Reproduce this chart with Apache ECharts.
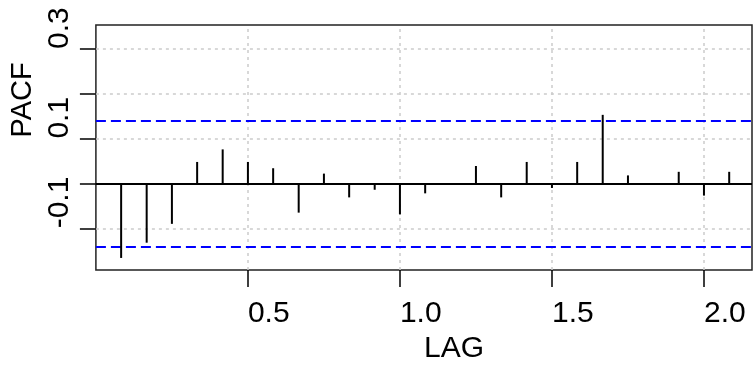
<!DOCTYPE html>
<html>
<head>
<meta charset="utf-8">
<script src="https://cdn.jsdelivr.net/npm/echarts@6/dist/echarts.min.js"></script>
<style>
  html, body { margin: 0; padding: 0; background: #fff; }
  #pacf-chart { width: 753px; height: 369px; }
</style>
</head>
<body>
<div id="pacf-chart"></div>
<script>
// lags in years (monthly series, frequency 12)
const lags = [0.083, 0.167, 0.25, 0.333, 0.417, 0.5, 0.583, 0.667, 0.75, 0.833,
  0.917, 1.0, 1.083, 1.167, 1.25, 1.333, 1.417, 1.5, 1.583, 1.667,
  1.75, 1.833, 1.917, 2.0, 2.083];
const pacf = [-0.166, -0.132, -0.090, 0.048, 0.076, 0.048, 0.034, -0.065, 0.022, -0.031,
  -0.014, -0.069, -0.022, -0.002, 0.039, -0.031, 0.048, -0.010, 0.048, 0.153,
  0.018, -0.002, 0.026, -0.027, 0.026];
const confBound = 0.143;

const xTicks = [0.5, 1.0, 1.5, 2.0];
const yTicks = [0.3, 0.2, 0.1, 0.0, -0.1];
const yTickLabels = [0.3, 0.1, -0.1];
const yGrid = [0.3, 0.2, 0.1, -0.1];

const font = "'Liberation Sans', Arial, sans-serif";

let chartDom = document.getElementById('pacf-chart');
let myChart = echarts.init(chartDom);

let gridStyle = { color: '#cccccc', width: 1.5, type: [3, 4] };

let option = {
  animation: false,
  grid: {
    left: 93,
    right: 1,
    top: 25,
    bottom: 97,
    show: true,
    borderColor: '#222',
    borderWidth: 1.5,
  },
  xAxis: {
    type: 'value',
    min: 0,
    max: 2.158,
    name: 'LAG',
    nameLocation: 'middle',
    nameGap: 60,
    nameTextStyle: { fontFamily: font, fontSize: 30, color: '#000', align: 'left' },
    axisLine: { show: false, onZero: false },
    axisTick: {
      show: true,
      length: 17,
      customValues: xTicks,
      lineStyle: { color: '#000', width: 1.5 },
    },
    axisLabel: {
      customValues: xTicks,
      align: 'left',
      margin: 29,
      fontFamily: font,
      fontSize: 30,
      color: '#000',
      formatter: (v) => v.toFixed(1),
    },
    splitLine: { show: false },
  },
  yAxis: {
    type: 'value',
    min: -0.1931,
    max: 0.3533,
    name: 'PACF',
    nameLocation: 'middle',
    nameGap: 56,
    nameTextStyle: { fontFamily: font, fontSize: 29, color: '#000', align: 'left', padding: [0, 0, 0, 10] },
    axisLine: { show: false },
    axisTick: {
      show: true,
      length: 16,
      customValues: yTicks,
      lineStyle: { color: '#000', width: 1.5 },
    },
    axisLabel: {
      customValues: yTickLabels,
      rotate: 90,
      align: 'left',
      margin: 21,
      fontFamily: font,
      fontSize: 30,
      color: '#000',
      formatter: (v) => v.toFixed(1),
    },
    splitLine: { show: false },
  },
  series: [
    {
      name: 'grid',
      type: 'line',
      data: [],
      silent: true,
      z: 1,
      markLine: {
        silent: true,
        symbol: 'none',
        label: { show: false },
        lineStyle: gridStyle,
        data: yGrid.map((v) => ({ yAxis: v })).concat(xTicks.map((v) => ({ xAxis: v }))),
      },
    },
    {
      name: 'bounds',
      type: 'line',
      data: [],
      silent: true,
      z: 3,
      markLine: {
        silent: true,
        symbol: 'none',
        label: { show: false },
        lineStyle: { color: '#0000ff', width: 2, type: [10, 5] },
        data: [{ yAxis: confBound }, { yAxis: -confBound }],
      },
    },
    {
      name: 'zero',
      type: 'line',
      data: [],
      silent: true,
      z: 4,
      markLine: {
        silent: true,
        symbol: 'none',
        label: { show: false },
        lineStyle: { color: '#000', width: 2, type: 'solid' },
        data: [{ yAxis: 0 }],
      },
    },
    {
      name: 'PACF',
      type: 'bar',
      barWidth: 2,
      z: 5,
      itemStyle: { color: '#000' },
      data: lags.map((x, i) => [x, pacf[i]]),
    },
  ],
};

option && myChart.setOption(option);
</script>
</body>
</html>
